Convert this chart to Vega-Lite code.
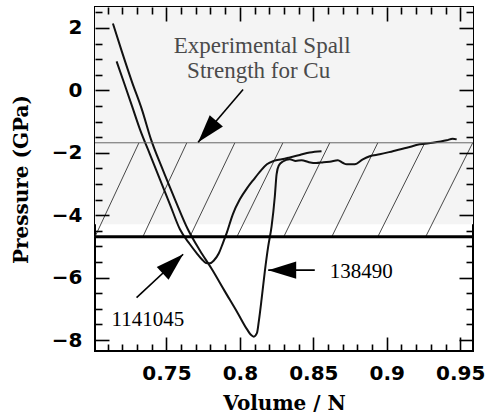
{
  "$schema": "https://vega.github.io/schema/vega-lite/v6.json",
  "width": 378,
  "height": 344,
  "autosize": {"type": "none"},
  "padding": {"left": 95, "top": 7, "right": 16, "bottom": 63},
  "background": "white",
  "config": {
    "view": {"stroke": "black", "strokeWidth": 2},
    "axis": {
      "domain": false, "grid": false, "tickColor": "black", "tickWidth": 1.6, "zindex": 1,
      "labelFont": "DejaVu Sans", "labelFontWeight": "bold", "labelFontSize": 20, "labelColor": "black",
      "titleFont": "DejaVu Serif", "titleFontWeight": "bold", "titleFontSize": 20, "titleColor": "black",
      "labelFlush": false, "labelOverlap": false, "labelBound": false
    }
  },
  "datasets": {
    "curves": [
      {"s": "138490", "v": 0.7136, "p": 2.14}, {"s": "138490", "v": 0.7197, "p": 1.24}, {"s": "138490", "v": 0.7265, "p": 0.28},
      {"s": "138490", "v": 0.7333, "p": -0.61}, {"s": "138490", "v": 0.7395, "p": -1.57}, {"s": "138490", "v": 0.7469, "p": -2.47},
      {"s": "138490", "v": 0.7558, "p": -3.49}, {"s": "138490", "v": 0.7646, "p": -4.45}, {"s": "138490", "v": 0.7728, "p": -5.13},
      {"s": "138490", "v": 0.781, "p": -5.73}, {"s": "138490", "v": 0.7898, "p": -6.44}, {"s": "138490", "v": 0.7986, "p": -7.14},
      {"s": "138490", "v": 0.8048, "p": -7.65}, {"s": "138490", "v": 0.8075, "p": -7.83}, {"s": "138490", "v": 0.8095, "p": -7.89},
      {"s": "138490", "v": 0.8116, "p": -7.78}, {"s": "138490", "v": 0.8129, "p": -7.4}, {"s": "138490", "v": 0.8148, "p": -6.69},
      {"s": "138490", "v": 0.817, "p": -5.8}, {"s": "138490", "v": 0.8193, "p": -5.0}, {"s": "138490", "v": 0.8216, "p": -4.36},
      {"s": "138490", "v": 0.8238, "p": -3.4}, {"s": "138490", "v": 0.825, "p": -2.69}, {"s": "138490", "v": 0.8265, "p": -2.41},
      {"s": "138490", "v": 0.8293, "p": -2.28}, {"s": "138490", "v": 0.834, "p": -2.21}, {"s": "138490", "v": 0.838, "p": -2.26},
      {"s": "138490", "v": 0.842, "p": -2.24}, {"s": "138490", "v": 0.847, "p": -2.3}, {"s": "138490", "v": 0.852, "p": -2.33},
      {"s": "138490", "v": 0.857, "p": -2.3}, {"s": "138490", "v": 0.8612, "p": -2.29}, {"s": "138490", "v": 0.8667, "p": -2.24},
      {"s": "138490", "v": 0.87, "p": -2.32}, {"s": "138490", "v": 0.8728, "p": -2.37}, {"s": "138490", "v": 0.8782, "p": -2.37},
      {"s": "138490", "v": 0.8837, "p": -2.21}, {"s": "138490", "v": 0.8884, "p": -2.11}, {"s": "138490", "v": 0.8952, "p": -2.05},
      {"s": "138490", "v": 0.9041, "p": -1.95}, {"s": "138490", "v": 0.9136, "p": -1.84}, {"s": "138490", "v": 0.9224, "p": -1.73},
      {"s": "138490", "v": 0.9313, "p": -1.68}, {"s": "138490", "v": 0.9408, "p": -1.6}, {"s": "138490", "v": 0.9449, "p": -1.55},
      {"s": "138490", "v": 0.9476, "p": -1.57},
      {"s": "1141045", "v": 0.7161, "p": 0.93}, {"s": "1141045", "v": 0.7211, "p": 0.25}, {"s": "1141045", "v": 0.7265, "p": -0.49},
      {"s": "1141045", "v": 0.732, "p": -1.25}, {"s": "1141045", "v": 0.7388, "p": -2.05}, {"s": "1141045", "v": 0.7456, "p": -2.85},
      {"s": "1141045", "v": 0.7524, "p": -3.65}, {"s": "1141045", "v": 0.7592, "p": -4.45}, {"s": "1141045", "v": 0.766, "p": -4.93},
      {"s": "1141045", "v": 0.7707, "p": -5.22}, {"s": "1141045", "v": 0.7741, "p": -5.41}, {"s": "1141045", "v": 0.7769, "p": -5.53},
      {"s": "1141045", "v": 0.7796, "p": -5.54}, {"s": "1141045", "v": 0.7823, "p": -5.45}, {"s": "1141045", "v": 0.7857, "p": -5.22},
      {"s": "1141045", "v": 0.7884, "p": -4.9}, {"s": "1141045", "v": 0.7912, "p": -4.55}, {"s": "1141045", "v": 0.7952, "p": -3.97},
      {"s": "1141045", "v": 0.8, "p": -3.49}, {"s": "1141045", "v": 0.8048, "p": -3.14}, {"s": "1141045", "v": 0.8095, "p": -2.85},
      {"s": "1141045", "v": 0.8143, "p": -2.57}, {"s": "1141045", "v": 0.8184, "p": -2.37}, {"s": "1141045", "v": 0.8231, "p": -2.26},
      {"s": "1141045", "v": 0.8286, "p": -2.21}, {"s": "1141045", "v": 0.834, "p": -2.15}, {"s": "1141045", "v": 0.8408, "p": -2.07},
      {"s": "1141045", "v": 0.8476, "p": -1.99}, {"s": "1141045", "v": 0.8556, "p": -1.95}
    ],
    "hatch": [
      {"v0": 0.7014, "p0": -4.69, "v1": 0.7313, "p1": -1.68},
      {"v0": 0.734, "p0": -4.69, "v1": 0.7639, "p1": -1.68},
      {"v0": 0.766, "p0": -4.69, "v1": 0.7966, "p1": -1.68},
      {"v0": 0.798, "p0": -4.69, "v1": 0.8293, "p1": -1.68},
      {"v0": 0.8299, "p0": -4.69, "v1": 0.8612, "p1": -1.68},
      {"v0": 0.8626, "p0": -4.69, "v1": 0.8939, "p1": -1.68},
      {"v0": 0.8939, "p0": -4.69, "v1": 0.9259, "p1": -1.68},
      {"v0": 0.9265, "p0": -4.69, "v1": 0.9585, "p1": -1.68}
    ],
    "arrows": [
      {"a": "spall", "v0": 0.8022, "p0": 0.03, "v1": 0.7716, "p1": -1.66},
      {"a": "1141045", "v0": 0.7297, "p0": -6.64, "v1": 0.7614, "p1": -5.25},
      {"a": "138490", "v0": 0.851, "p0": -5.76, "v1": 0.8193, "p1": -5.76}
    ]
  },
  "layer": [
    {
      "data": {"values": [{"x0": 0.7014, "x1": 0.9587, "y0": -4.29, "y1": 2.67}]},
      "mark": {"type": "rect", "color": "#f4f4f4"},
      "encoding": {
        "x": {"field": "x0", "type": "quantitative",
          "scale": {"domain": [0.7014, 0.9587], "nice": false, "zero": false},
          "axis": {"orient": "top", "title": null, "labels": false, "zindex": 2,
            "values": [0.71,0.72,0.73,0.74,0.75,0.76,0.77,0.78,0.79,0.8,0.81,0.82,0.83,0.84,0.85,0.86,0.87,0.88,0.89,0.9,0.91,0.92,0.93,0.94,0.95],
            "tickSize": {"condition": {"test": "abs(datum.value*20 - round(datum.value*20)) < 0.001", "value": -14}, "value": -7}}},
        "x2": {"field": "x1"},
        "y": {"field": "y0", "type": "quantitative",
          "scale": {"domain": [-8.35, 2.67], "nice": false, "zero": false},
          "axis": {"orient": "right", "title": null, "labels": false, "zindex": 2,
            "values": [-8,-7.5,-7,-6.5,-6,-5.5,-5,-4.5,-4,-3.5,-3,-2.5,-2,-1.5,-1,-0.5,0,0.5,1,1.5,2,2.5],
            "tickSize": {"condition": {"test": "datum.value % 2 == 0", "value": -14}, "value": -7}}},
        "y2": {"field": "y1"}
      }
    },
    {
      "data": {"name": "hatch"},
      "mark": {"type": "rule", "color": "#333", "strokeWidth": 0.9},
      "encoding": {
        "x": {"field": "v0", "type": "quantitative",
          "axis": {"orient": "bottom", "title": null, "labels": false, "tickSize": -7, "zindex": 2,
            "values": [0.71,0.72,0.73,0.74,0.76,0.77,0.78,0.79,0.81,0.82,0.83,0.84,0.86,0.87,0.88,0.89,0.91,0.92,0.93,0.94]}},
        "y": {"field": "p0", "type": "quantitative",
          "axis": {"orient": "left", "title": null, "labels": false, "tickSize": -7, "zindex": 2,
            "values": [-7.5,-7,-6.5,-5.5,-5,-4.5,-3.5,-3,-2.5,-1.5,-1,-0.5,0.5,1,1.5,2.5]}},
        "x2": {"field": "v1"}, "y2": {"field": "p1"}
      }
    },
    {
      "layer": [
        {
          "data": {"name": "curves"},
          "mark": {"type": "line", "color": "#111", "strokeWidth": 2, "interpolate": "monotone", "clip": true},
          "encoding": {
            "x": {"field": "v", "type": "quantitative",
              "scale": {"domain": [0.7014, 0.9587], "nice": false, "zero": false},
              "axis": {"orient": "bottom", "title": "Volume / N", "zindex": 2,
                "values": [0.75, 0.8, 0.85, 0.9, 0.95], "format": "~g",
                "tickSize": -14, "labelPadding": 26, "titlePadding": 10}},
            "y": {"field": "p", "type": "quantitative",
              "scale": {"domain": [-8.35, 2.67], "nice": false, "zero": false},
              "axis": {"orient": "left", "title": "Pressure (GPa)", "zindex": 2,
                "values": [-8, -6, -4, -2, 0, 2], "format": "d",
                "tickSize": -14, "labelPadding": 27, "titlePadding": 20}},
            "detail": {"field": "s"}
          }
        },
        {
          "data": {"values": [{"p": -1.68}]},
          "mark": {"type": "rule", "color": "#666", "strokeWidth": 1},
          "encoding": {"y": {"field": "p", "type": "quantitative"}}
        },
        {
          "data": {"values": [{"p": -4.69}]},
          "mark": {"type": "rule", "color": "black", "strokeWidth": 3},
          "encoding": {"y": {"field": "p", "type": "quantitative"}}
        },
        {
          "data": {"name": "arrows"},
          "mark": {"type": "rule", "color": "black", "strokeWidth": 1.6},
          "encoding": {
            "x": {"field": "v0", "type": "quantitative"}, "y": {"field": "p0", "type": "quantitative"},
            "x2": {"field": "v1"}, "y2": {"field": "p1"}
          }
        },
        {
          "data": {"values": [{"v": 0.7716, "p": -1.66}]},
          "mark": {"type": "point", "shape": "M0,0L0.62,2L-0.62,2Z", "filled": true, "color": "black", "opacity": 1, "size": 784, "angle": 220.5},
          "encoding": {"x": {"field": "v", "type": "quantitative"}, "y": {"field": "p", "type": "quantitative"}}
        },
        {
          "data": {"values": [{"v": 0.7614, "p": -5.25}]},
          "mark": {"type": "point", "shape": "M0,0L0.62,2L-0.62,2Z", "filled": true, "color": "black", "opacity": 1, "size": 784, "angle": 47},
          "encoding": {"x": {"field": "v", "type": "quantitative"}, "y": {"field": "p", "type": "quantitative"}}
        },
        {
          "data": {"values": [{"v": 0.8193, "p": -5.76}]},
          "mark": {"type": "point", "shape": "M0,0L0.62,2L-0.62,2Z", "filled": true, "color": "black", "opacity": 1, "size": 784, "angle": 270},
          "encoding": {"x": {"field": "v", "type": "quantitative"}, "y": {"field": "p", "type": "quantitative"}}
        },
        {
          "data": {"values": [{"t": "Experimental Spall", "v": 0.8152, "p": 1.2}, {"t": "Strength for Cu", "v": 0.8128, "p": 0.4}]},
          "mark": {"type": "text", "font": "Liberation Serif", "fontSize": 23, "color": "#4a4a4a", "align": "center", "baseline": "alphabetic"},
          "encoding": {"x": {"field": "v", "type": "quantitative"}, "y": {"field": "p", "type": "quantitative"}, "text": {"field": "t"}}
        },
        {
          "data": {"values": [{"t": "138490", "v": 0.8612, "p": -6.0}, {"t": "1141045", "v": 0.7127, "p": -7.55}]},
          "mark": {"type": "text", "font": "Liberation Serif", "fontSize": 21, "color": "black", "align": "left", "baseline": "alphabetic"},
          "encoding": {"x": {"field": "v", "type": "quantitative"}, "y": {"field": "p", "type": "quantitative"}, "text": {"field": "t"}}
        }
      ]
    }
  ],
  "resolve": {"axis": {"x": "independent", "y": "independent"}}
}
